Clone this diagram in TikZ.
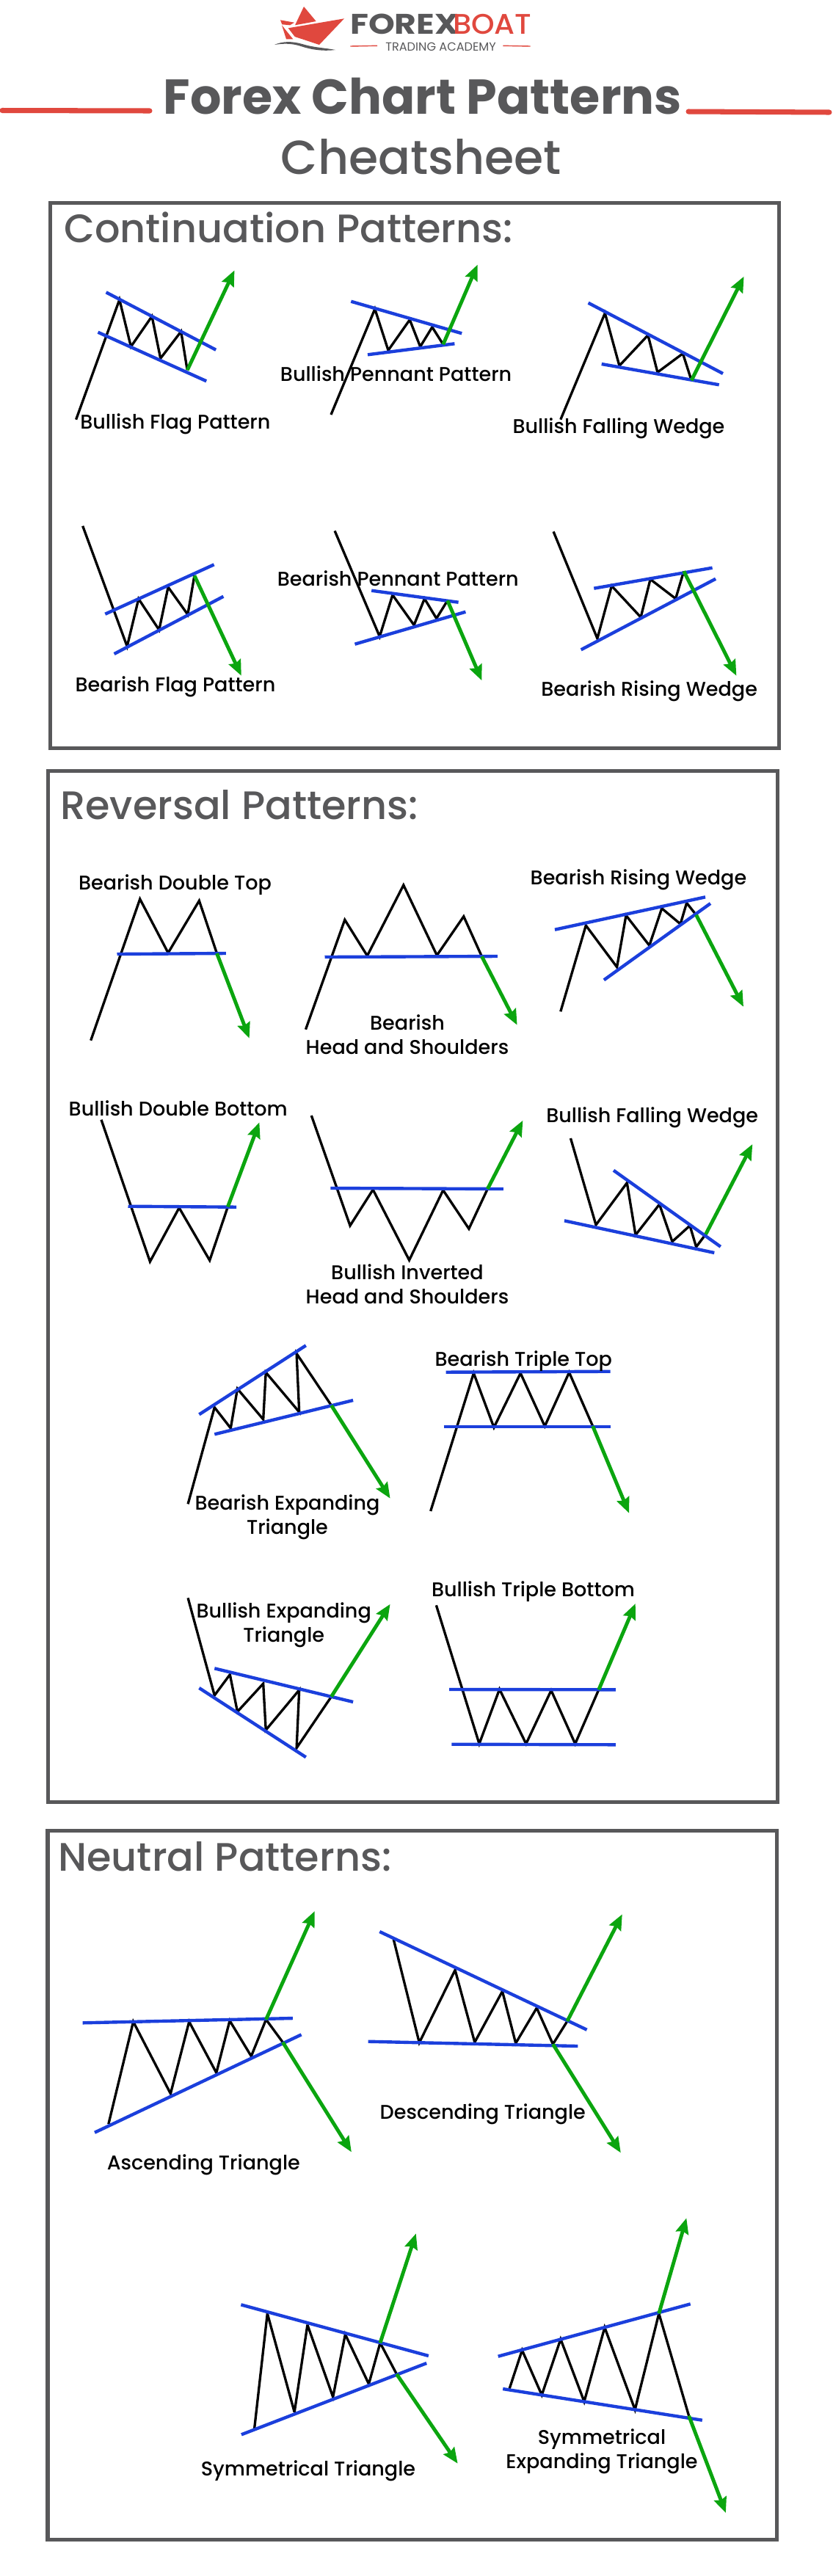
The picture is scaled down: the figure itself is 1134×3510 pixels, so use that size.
\documentclass[tikz,border=0pt]{standalone}
\usepackage{fontspec}
\setmainfont{Poppins}
\newfontfamily\medfont{Poppins}[UprightFont=* Medium]
\usetikzlibrary{arrows.meta}
\definecolor{boxgray}{HTML}{58585A}
\definecolor{logored}{HTML}{E0483E}
\definecolor{trendblue}{HTML}{1B3FDC}
\definecolor{breakgreen}{HTML}{0BA50F}
\tikzset{
	price/.style={draw=black,line width=1.9pt,line join=miter,miter limit=4},
	trend/.style={draw=trendblue,line width=2.5pt},
	breakout/.style={draw=breakgreen,line width=2.8pt,-{Stealth[length=12pt,width=10pt,inset=1.5pt]}},
	panel/.style={draw=boxgray,line width=2.85pt},
	redbar/.style={draw=logored,line width=4pt,line cap=round},
	thinred/.style={draw=logored,line width=0.8pt},
	pattern/.style={text=black,inner sep=0pt,align=center,yshift=-0.8pt,font=\medfont\fontsize{15.4}{18.8}\selectfont},
	section/.style={text=boxgray,inner sep=0pt,anchor=base west,font=\medfont\fontsize{30.8}{36}\selectfont}
}
\begin{document}
\begin{tikzpicture}[x=0.02cm,y=-0.02cm]
	\useasboundingbox (0,0) rectangle (1134,3510);
	% logo
	\fill[logored] (414,9) -- (430.7,29) -- (402,34.3) -- cycle;
	\fill[logored] (392.7,38.3) -- (469,25.3) -- (435,61) -- (401.7,50) -- cycle;
	\fill[logored] (382,27.3) -- (401,30.7) -- (395,34.3) -- (384.3,33.3) -- cycle;
	\fill[logored] (384,34.3) -- (399.3,53.3) -- (390,53.3) -- cycle;
	\fill[boxgray] (374,61) .. controls (385,56) and (398,56) .. (412,60) .. controls (428,65) and (442,65) .. (457,68) .. controls (440,70) and (425,68) .. (410,63) .. controls (398,59) and (386,59) .. (374,61) -- cycle;
	\node[inner sep=0pt,anchor=base west,text=boxgray,font=\fontsize{22}{24}\bfseries\selectfont] (forexword) at (476.7,46) {\scalebox{1.18}[1]{FOREX}};
	\node[inner sep=0pt,anchor=base west,text=logored,font=\medfont\fontsize{22}{24}\selectfont] (boatword) at (616.7,46) {\scalebox{1.04}[1]{BOAT}};
	\node[inner sep=0pt,text=boxgray,font=\fontsize{9.2}{10}\selectfont] (academy) at (600.5,63.5) {TRADING ACADEMY};
	\draw[thinred] (477.3,63) -- (514,62.3);
	\draw[thinred] (685.3,62.3) -- (722.7,63);
	% title
	\node[inner sep=0pt,anchor=base,text=boxgray,font=\fontsize{38}{44}\bfseries\selectfont] (titleone) at (575.7,155) {Forex Chart Patterns};
	\node[inner sep=0pt,anchor=base,text=boxgray,font=\medfont\fontsize{37}{44}\selectfont] (titletwo) at (574,237) {Cheatsheet};
	\draw[redbar] (3,150.5) -- (204,151);
	\draw[redbar] (938,152) -- (1130,153);
	% panels
	\draw[panel] (68.5,276.5) rectangle (1061,1019.5);
	\draw[panel] (65.5,1050) rectangle (1059.5,2455);
	\draw[panel] (65,2494.5) rectangle (1058.5,3460);
	\node[section] (contitle) at (87,330) {Continuation Patterns:};
	\node[section] (revtitle) at (82,1116) {Reversal Patterns:};
	\node[section] (neutitle) at (79,2549) {Neutral Patterns:};
	% bullish flag
	\draw[price] (103.6,571.7) -- (162.8,408.3) -- (178.4,472.3) -- (207,431) -- (218.7,488.3) -- (246.7,451.7) -- (255.2,504.3);
	\draw[trend] (144.6,398.3) -- (294.2,476.7);
	\draw[trend] (133.5,452.7) -- (281.2,519.3);
	\draw[breakout] (255.2,504.3) -- (319.5,368.3);
	\node[pattern] (bullflag) at (238.9,576.7) {Bullish Flag Pattern};
	% bullish pennant
	\draw[price] (451,565) -- (510.8,421) -- (529,477.3) -- (558.3,435.7) -- (572.6,472.3) -- (588.9,445.7) -- (603.8,469.3);
	\draw[trend] (478.3,410.7) -- (629.2,454.3);
	\draw[trend] (501,483.3) -- (619.4,468.3);
	\draw[breakout] (603.8,469.3) -- (650.6,360.7);
	\node[pattern] (bullpennant) at (539.6,507.7) {Bullish Pennant Pattern};
	% bullish falling wedge
	\draw[price] (763.8,571.7) -- (824.3,426.7) -- (843.9,498.3) -- (882.9,456.7) -- (895.9,507.3) -- (930.4,481.7) -- (942.1,518.3);
	\draw[trend] (801.6,412.7) -- (985,509);
	\draw[trend] (819.7,496) -- (979.7,524.3);
	\draw[breakout] (942.1,518.3) -- (1013.6,376.7);
	\node[pattern] (bullwedge) at (843,582.7) {Bullish Falling Wedge};
	% bearish flag
	\draw[price] (112.7,716.7) -- (173.2,880.7) -- (188.8,816) -- (216.8,858.3) -- (229.1,800) -- (255.8,837.3) -- (264.9,784.3);
	\draw[trend] (143.3,836.7) -- (291.6,769.3);
	\draw[trend] (155.6,891) -- (304.4,812.7);
	\draw[breakout] (264.9,784.3) -- (328.8,920.7);
	\node[pattern] (bearflag) at (239,934.3) {Bearish Flag Pattern};
	% bearish pennant
	\draw[price] (456.1,723.3) -- (517.3,867.3) -- (534.9,810.7) -- (564.1,851.7) -- (578.4,815.7) -- (594.7,842.7) -- (609.7,818.3);
	\draw[trend] (506.2,804.7) -- (624.6,820.7);
	\draw[trend] (483.5,877.7) -- (634.4,833.7);
	\draw[breakout] (609.7,818.3) -- (656.5,927.3);
	\node[pattern] (bearpennant) at (542.3,786.7) {Bearish Pennant Pattern};
	% bearish rising wedge
	\draw[price] (754.1,724.3) -- (813.9,870) -- (833.4,798.3) -- (873.1,841) -- (886.1,789.3) -- (920.6,815.7) -- (931.7,778.3);
	\draw[trend] (809.3,801.7) -- (970.6,773.7);
	\draw[trend] (791.7,885.3) -- (975.1,788.7);
	\draw[breakout] (931.7,778.3) -- (1003.4,920.7);
	\node[pattern] (bearwedge) at (884.7,940.7) {Bearish Rising Wedge};
	% double top
	\draw[price] (123.7,1417.7) -- (190.7,1225) -- (229.1,1298.3) -- (271.4,1227.3) -- (295.5,1299);
	\draw[trend] (159.5,1300) -- (307.8,1299);
	\draw[breakout] (295.5,1299) -- (339.7,1414.7);
	\node[pattern] (doubletop) at (238.5,1204) {Bearish Double Top};
	% head and shoulders
	\draw[price] (416.5,1402.7) -- (469.8,1253.3) -- (500.4,1302.3) -- (549.8,1206) -- (595.3,1301.7) -- (631.8,1248.7) -- (656.5,1303.3);
	\draw[trend] (442.5,1304) -- (677.9,1303);
	\draw[breakout] (656.5,1303.3) -- (704.6,1396.7);
	\node[pattern] (headshoulders) at (555,1408) {Bearish\\Head and Shoulders};
	% second rising wedge
	\draw[price] (763.8,1378.3) -- (798.3,1261) -- (840.6,1317.7) -- (853,1247.3) -- (884.8,1288.3) -- (901.7,1237.7) -- (927.1,1259) -- (935.6,1230.3) -- (948.6,1246.7);
	\draw[trend] (756,1266.7) -- (961,1222.3);
	\draw[trend] (822.9,1335.3) -- (968,1231);
	\draw[breakout] (948.6,1246.7) -- (1013,1371.7);
	\node[pattern] (risingtwo) at (870,1197.7) {Bearish Rising Wedge};
	% double bottom
	\draw[price] (138,1525.7) -- (204.4,1719) -- (244.1,1645.7) -- (285.7,1717.3) -- (310.4,1644.3);
	\draw[trend] (174.5,1643.7) -- (322.2,1644.7);
	\draw[breakout] (310.4,1644.3) -- (353.4,1529.3);
	\node[pattern] (doublebottom) at (242.8,1508.3) {Bullish Double Bottom};
	% inverted head and shoulders
	\draw[price] (424.3,1520) -- (477,1670) -- (508.2,1621) -- (557.6,1717) -- (603.8,1621.7) -- (638.9,1674.3) -- (664.3,1620);
	\draw[trend] (450.3,1619) -- (685.8,1620);
	\draw[breakout] (664.3,1620) -- (712.4,1526.7);
	\node[pattern] (invertedhs) at (555,1748.7) {Bullish Inverted\\Head and Shoulders};
	% second falling wedge
	\draw[price] (777.5,1551) -- (812,1669) -- (854.3,1611.7) -- (866,1682.7) -- (898.5,1641) -- (916,1691.7) -- (940,1670) -- (948.6,1699) -- (961.6,1681.7);
	\draw[trend] (836,1594.7) -- (981.8,1698.7);
	\draw[trend] (769,1663.3) -- (973.3,1707);
	\draw[breakout] (961.6,1681.7) -- (1025.3,1559);
	\node[pattern] (fallingtwo) at (888.7,1521.7) {Bullish Falling Wedge};
	% bearish expanding triangle
	\draw[price] (256.1,2049.3) -- (292.3,1917.7) -- (314.3,1946) -- (323.5,1892.3) -- (358.7,1934) -- (362.2,1870) -- (407.7,1924) -- (404.1,1844.3) -- (451.5,1915);
	\draw[trend] (271.4,1927.3) -- (416.8,1833.3);
	\draw[trend] (292.3,1954.3) -- (481.1,1908);
	\draw[breakout] (451.5,1915) -- (531.6,2041.7);
	\node[pattern] (bearexpand) at (391.5,2065.8) {Bearish Expanding\\Triangle};
	% triple top
	\draw[price] (586.7,2059) -- (645.4,1871) -- (673,1945) -- (709.2,1871) -- (742.3,1943.3) -- (775.5,1870) -- (807.7,1943.3);
	\draw[trend] (607.6,1869.7) -- (831.6,1868.7);
	\draw[trend] (604.6,1944) -- (831.6,1944);
	\draw[breakout] (807.7,1943.3) -- (857.1,2061.7);
	\node[pattern] (tripletop) at (713.3,1853.3) {Bearish Triple Top};
	% bullish expanding triangle
	\draw[price] (256.1,2177.3) -- (292.3,2310) -- (313.3,2281.7) -- (323.5,2332.3) -- (358.7,2294) -- (362.2,2357.3) -- (407.7,2302.7) -- (404.1,2381.7) -- (451.5,2311.7);
	\draw[trend] (292.3,2273.3) -- (481.1,2319);
	\draw[trend] (271.4,2300) -- (416.8,2394.3);
	\draw[breakout] (451.5,2311.7) -- (531.6,2185.7);
	\node[pattern] (bullexpand) at (386.7,2212.7) {Bullish Expanding\\Triangle};
	% triple bottom
	\draw[price] (594.4,2187.3) -- (653,2376) -- (680.6,2301.7) -- (716.8,2376) -- (751,2303.3) -- (783.7,2376) -- (815.8,2302.3);
	\draw[trend] (612.2,2302) -- (838.8,2302.3);
	\draw[trend] (615.3,2376.7) -- (838.8,2377.3);
	\draw[breakout] (815.8,2302.3) -- (865.8,2185);
	\node[pattern] (triplebottom) at (726.5,2167.3) {Bullish Triple Bottom};
	% ascending triangle
	\draw[price] (147.8,2894.3) -- (181.6,2754.7) -- (232.4,2852.7) -- (257.7,2754.7) -- (294.8,2824.3) -- (313,2753.3) -- (342.3,2801.7) -- (362.5,2751.7) -- (385.3,2782.7);
	\draw[trend] (112.7,2756.3) -- (398.9,2750);
	\draw[trend] (129,2905.7) -- (410.6,2772.3);
	\draw[breakout] (362.5,2751.7) -- (428.8,2604);
	\draw[breakout] (385.3,2782.7) -- (478.9,2932.3);
	\node[pattern] (ascending) at (277.3,2948.3) {Ascending Triangle};
	% descending triangle
	\draw[price] (536.2,2642.3) -- (571.3,2783.3) -- (620.1,2684.3) -- (646.8,2782.7) -- (684.5,2713.3) -- (702.7,2784) -- (731.3,2736) -- (753.4,2785.3) -- (772.9,2754);
	\draw[trend] (517.3,2632) -- (799.6,2765.7);
	\draw[trend] (501.7,2781.7) -- (787.3,2788);
	\draw[breakout] (772.9,2754) -- (847.8,2608.3);
	\draw[breakout] (753.4,2785.3) -- (845.8,2933.3);
	\node[pattern] (descending) at (657.8,2879.3) {Descending Triangle};
	% symmetrical triangle
	\draw[price] (346.6,3309.3) -- (364.3,3152.3) -- (401.2,3286.7) -- (418.9,3167.7) -- (453.7,3266) -- (470.4,3180.7) -- (502.5,3248.3) -- (518,3192.3) -- (540.5,3235);
	\draw[trend] (328.4,3140.3) -- (583.9,3210);
	\draw[trend] (328.9,3317.3) -- (581.2,3220);
	\draw[breakout] (518,3192.3) -- (566.8,3043.3);
	\draw[breakout] (540.5,3235) -- (623.6,3356.7);
	\node[pattern] (symtriangle) at (420,3365.7) {Symmetrical Triangle};
	% symmetrical expanding triangle
	\draw[price] (693.7,3256) -- (711.4,3202.3) -- (738.2,3263.3) -- (763.9,3187.3) -- (796,3272.3) -- (823.9,3171.3) -- (865.2,3283.3) -- (897.8,3152.3) -- (938.6,3291.7);
	\draw[trend] (678.7,3210.7) -- (940.7,3139.3);
	\draw[trend] (685.2,3255) -- (956.8,3297.7);
	\draw[breakout] (897.8,3152.3) -- (935.3,3022.3);
	\draw[breakout] (938.6,3291.7) -- (988.9,3424);
	\node[pattern] (symexpand) at (820,3339) {Symmetrical\\Expanding Triangle};
\end{tikzpicture}
\end{document}
